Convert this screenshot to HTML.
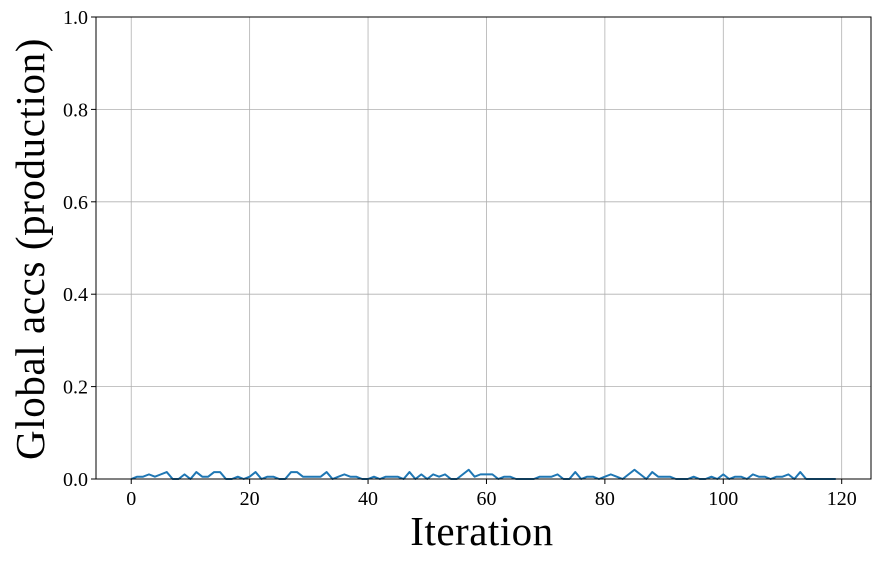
<!DOCTYPE html>
<html><head><meta charset="utf-8"><style>
body{margin:0;background:#fff;}
svg text{font-family:"Liberation Serif","DejaVu Serif",serif;fill:#000;}
</style></head><body>
<svg width="880" height="562" viewBox="0 0 880 562" xmlns="http://www.w3.org/2000/svg">
<g id="grid"></g>
<g id="ticks"></g>
<path id="line" fill="none" stroke="#1f77b4" stroke-width="2" stroke-linejoin="round"/>
<rect x="96" y="17" width="775" height="462" fill="none" stroke="#000" stroke-width="1"/>
<text x="482" y="545" font-size="41" text-anchor="middle" letter-spacing="0.5">Iteration</text>
<text transform="translate(44,249) rotate(-90)" font-size="41" text-anchor="middle" letter-spacing="0.6">Global accs (production)</text>
</svg>
<script>
const xTicks=[0,20,40,60,80,100,120];
const yTicks=[0,0.2,0.4,0.6,0.8,1.0];
const yTickLabels=["0.0","0.2","0.4","0.6","0.8","1.0"];
const accs=[0,0.005,0.005,0.01,0.005,0.01,0.015,0,0,0.01,0,0.015,0.005,0.005,0.015,0.015,0,0,0.005,0,0.005,0.015,0,0.005,0.005,0,0,0.015,0.015,0.005,0.005,0.005,0.005,0.015,0,0.005,0.01,0.005,0.005,0,0,0.005,0,0.005,0.005,0.005,0,0.015,0,0.01,0,0.01,0.005,0.01,0,0,0.01,0.02,0.005,0.01,0.01,0.01,0,0.005,0.005,0,0,0,0,0.005,0.005,0.005,0.01,0,0,0.015,0,0.005,0.005,0,0.005,0.01,0.005,0,0.01,0.02,0.01,0,0.015,0.005,0.005,0.005,0,0,0,0.005,0,0,0.005,0,0.01,0,0.005,0.005,0,0.01,0.005,0.005,0,0.005,0.005,0.01,0,0.015,0,0,0,0,0,0];
const L=96,R=871,T=17,B=479;
const xmin=-5.95,xmax=124.95;
const xs=v=>L+(v-xmin)/(xmax-xmin)*(R-L);
const ys=v=>B-v*(B-T);
const ns="http://www.w3.org/2000/svg";
const grid=document.getElementById('grid'),ticks=document.getElementById('ticks');
function mk(tag,a,parent){const e=document.createElementNS(ns,tag);for(const k in a)e.setAttribute(k,a[k]);parent.appendChild(e);return e;}
xTicks.forEach(t=>{const x=xs(t);
 const g=mk('line',{x1:x,x2:x,y1:T,y2:B,stroke:'#b0b0b0','stroke-width':0.8},grid);
 
 
 const tk=mk('line',{x1:x,x2:x,y1:B,y2:B+5,stroke:'#000','stroke-width':1},ticks);
 
 
 const tx=mk('text',{x:x,y:B+26,'font-size':20,'text-anchor':'middle'},ticks);tx.textContent=t;
 
 
});
yTicks.forEach((t,i)=>{const y=ys(t);
 const g=mk('line',{x1:L,x2:R,y1:y,y2:y,stroke:'#b0b0b0','stroke-width':0.8},grid);
 
 
 const tk=mk('line',{x1:L-5,x2:L,y1:y,y2:y,stroke:'#000','stroke-width':1},ticks);
 
 
 const tx=mk('text',{x:L-8,y:y+7,'font-size':20,'text-anchor':'end'},ticks);tx.textContent=yTickLabels[i];
 
 
});
document.getElementById('line').setAttribute('d',accs.map((v,i)=>(i?'L':'M')+xs(i).toFixed(2)+','+ys(v).toFixed(2)).join(''));
</script>
</body></html>
